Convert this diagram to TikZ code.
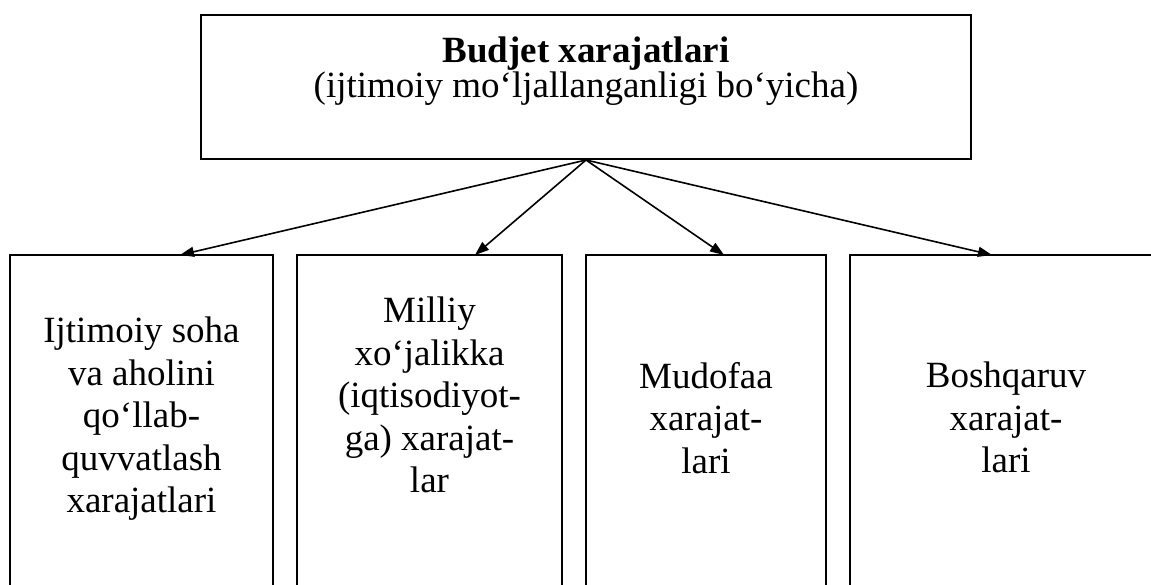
\documentclass[tikz,border=0pt]{standalone}
\usepackage{fontspec}
\setmainfont{Liberation Serif}
\usetikzlibrary{arrows.meta}
\tikzset{
  box/.style={draw=black, line width=2pt, inner sep=0pt},
  lbl/.style={align=center, anchor=north, font=\fontsize{37}{42.5}\selectfont, inner sep=0pt},
  arr/.style={line width=1.6pt, -{Triangle[length=14pt,width=10pt]}}
}
\begin{document}
\begin{tikzpicture}[x=1pt,y=-1pt]
\useasboundingbox (0,0) rectangle (1151,585);
\clip (0,0) rectangle (1151,585);
\node[box, minimum width=770pt, minimum height=144pt] (top) at (586,87) {};
\node[lbl, font=\fontsize{37}{35}\selectfont] (ttop) at (586,37) {\textbf{Budjet xarajatlari}\\(ijtimoiy mo‘ljallanganligi bo‘yicha)};
\node[box, minimum width=263pt, minimum height=360pt] (b1) at (141.5,435) {};
\node[box, minimum width=265pt, minimum height=360pt] (b2) at (429.5,435) {};
\node[box, minimum width=240pt, minimum height=360pt] (b3) at (706,435) {};
\node[box, minimum width=330pt, minimum height=360pt] (b4) at (1015,435) {};
\node[lbl] (t1) at (141.5,317) {Ijtimoiy soha\\va aholini\\qo‘llab-\\quvvatlash\\xarajatlari};
\node[lbl] (t2) at (429.5,297) {Milliy\\xo‘jalikka\\(iqtisodiyot-\\ga) xarajat-\\lar};
\node[lbl] (t3) at (706,362) {Mudofaa\\xarajat-\\lari};
\node[lbl] (t4) at (1006,362) {Boshqaruv\\xarajat-\\lari};
\coordinate (e1) at (180,255);
\coordinate (e2) at (475,255);
\coordinate (e3) at (724,255);
\coordinate (e4) at (992,255);
\draw[arr] (top.south) -- (e1);
\draw[arr] (top.south) -- (e2);
\draw[arr] (top.south) -- (e3);
\draw[arr] (top.south) -- (e4);
\end{tikzpicture}
\end{document}
